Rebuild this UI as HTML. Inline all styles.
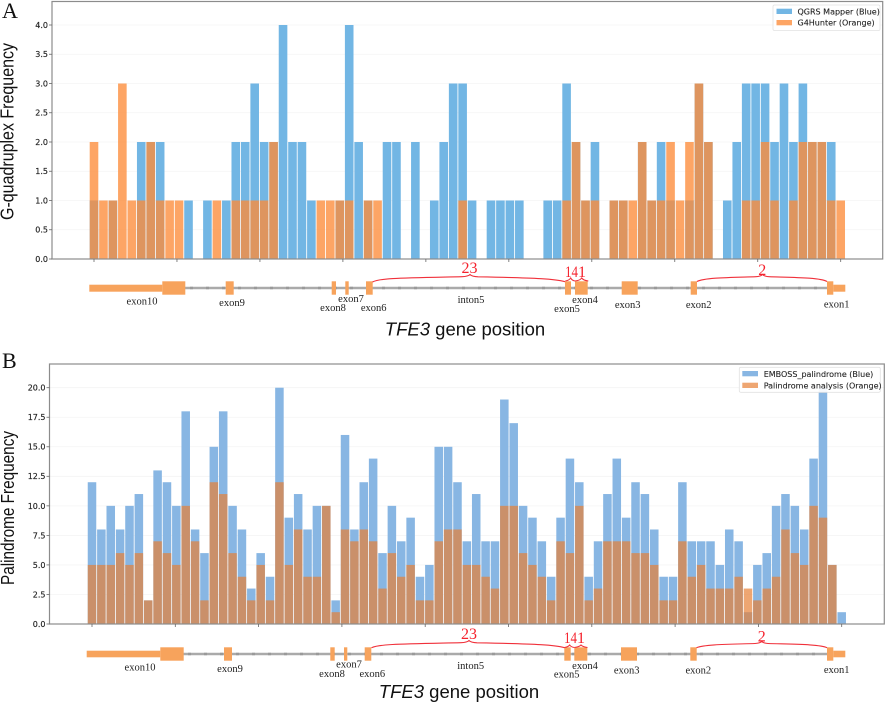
<!DOCTYPE html>
<html lang="en">
<head>
<meta charset="utf-8">
<title>TFE3 G-quadruplex and palindrome frequency</title>
<style>
html,body{margin:0;padding:0;background:#fff;}
svg{display:block;filter:blur(0.35px);}
.tick{font-family:"DejaVu Sans",sans-serif;font-size:8px;fill:#222;stroke:#222;stroke-width:0.15;}
.leg{font-family:"DejaVu Sans",sans-serif;font-size:8px;fill:#222;stroke:#222;stroke-width:0.1;}
.ex{font-family:"Liberation Serif",serif;font-size:10.5px;fill:#222;text-anchor:middle;}
.red{font-family:"Liberation Serif",serif;font-size:16px;fill:#f5222d;text-anchor:middle;}
.title{font-family:"Liberation Sans",sans-serif;font-size:18.5px;fill:#111;}
.panel{font-family:"Liberation Serif",serif;font-size:22px;fill:#111;}
.brace{fill:none;stroke:#f0303a;stroke-width:1.1;}
.intron{stroke:#aaa;stroke-width:2.4;}
.intron-mark{stroke:#999;stroke-width:2.4;stroke-dasharray:3 13;}
.exon{fill:#f7a35c;}
</style>
</head>
<body>
<svg id="fig" xmlns="http://www.w3.org/2000/svg" width="886" height="703" viewBox="0 0 886 703">
<rect width="886" height="703" fill="#fff"/>

<text class="panel" x="2" y="18">A</text>
<text class="panel" x="2" y="368">B</text>

<g id="plotA"></g>
<g id="plotB"></g>

<text class="title" transform="translate(13.5,131.5) rotate(-90)" text-anchor="middle" textLength="177" lengthAdjust="spacingAndGlyphs">G-quadruplex Frequency</text>
<text class="title" transform="translate(14,508) rotate(-90)" text-anchor="middle" textLength="154" lengthAdjust="spacingAndGlyphs">Palindrome Frequency</text>

<text class="title" x="465" y="335.5" text-anchor="middle"><tspan font-style="italic">TFE3</tspan> gene position</text>
<text class="title" x="459" y="698" text-anchor="middle"><tspan font-style="italic">TFE3</tspan> gene position</text>

<!-- legend A -->
<g>
  <rect x="773" y="5" width="107" height="25.5" fill="#fff" fill-opacity=".9" stroke="#e2e2e2" stroke-width="0.8" rx="1.5"/>
  <rect x="776.5" y="8.7" width="15.5" height="5.3" fill="#72b6e4"/>
  <text class="leg" x="797.5" y="14.5">QGRS Mapper (Blue)</text>
  <rect x="776.5" y="20" width="15.5" height="5.3" fill="#fda565"/>
  <text class="leg" x="797.5" y="25.7">G4Hunter (Orange)</text>
</g>
<!-- legend B -->
<g>
  <rect x="739.3" y="367.3" width="141" height="25" fill="#fff" fill-opacity=".92" stroke="#e2e2e2" stroke-width="0.8" rx="1.5"/>
  <rect x="742.3" y="371" width="15.7" height="5.3" fill="#88b6e3"/>
  <text class="leg" x="763.7" y="377">EMBOSS_palindrome (Blue)</text>
  <rect x="742.3" y="382.7" width="15.7" height="5.3" fill="#eea672"/>
  <text class="leg" x="763.7" y="388.5">Palindrome analysis (Orange)</text>
</g>

<!-- gene track A -->
<g>
  <line class="intron" x1="185" y1="288" x2="833" y2="288"/>
  <line class="intron-mark" x1="190" y1="288" x2="833" y2="288"/>
  <rect class="exon" x="89.3" y="284.7" width="73" height="7"/>
  <rect class="exon" x="162.3" y="281.3" width="23" height="13.4"/>
  <rect class="exon" x="225.7" y="281.3" width="8" height="13.4"/>
  <rect class="exon" x="331.7" y="281.3" width="4.3" height="13.4"/>
  <rect class="exon" x="345.3" y="281.3" width="3.4" height="13.4"/>
  <rect class="exon" x="366" y="281.3" width="6.7" height="13.4"/>
  <rect class="exon" x="565" y="281.3" width="6" height="13.4"/>
  <rect class="exon" x="575" y="281.3" width="12.7" height="13.4"/>
  <rect class="exon" x="621.7" y="281.3" width="16" height="13.4"/>
  <rect class="exon" x="690.7" y="281.3" width="6.3" height="13.4"/>
  <rect class="exon" x="827" y="281.3" width="6.3" height="13.4"/>
  <rect class="exon" x="833.3" y="284.7" width="12" height="7"/>
  <text class="ex" x="142" y="304.5">exon10</text>
  <text class="ex" x="232" y="306">exon9</text>
  <text class="ex" x="351" y="302">exon7</text>
  <text class="ex" x="333" y="311">exon8</text>
  <text class="ex" x="373.7" y="311">exon6</text>
  <text class="ex" x="471" y="303">inton5</text>
  <text class="ex" x="567" y="312">exon5</text>
  <text class="ex" x="585" y="303">exon4</text>
  <text class="ex" x="627.7" y="308">exon3</text>
  <text class="ex" x="698.7" y="308">exon2</text>
  <text class="ex" x="836.7" y="307.5">exon1</text>
  <path class="brace" d="M372.5 282 C380 278 400 278 462 276.7 Q468 276.5 470 274.5 Q472 276.5 478 276.8 C540 278 555 279 565 281.7"/>
  <path class="brace" d="M565.3 281 Q569 280.5 570.7 278 Q572 280.5 575 281"/>
  <path class="brace" d="M575 281 Q580 280.5 581.7 278 Q583.5 280.5 588.3 281"/>
  <path class="brace" d="M697 281.5 C705 277.5 730 277.5 756 276.7 Q760.5 276.5 762.5 274.5 Q764.5 276.5 769 276.7 C795 277.5 820 277.5 827 281.5"/>
  <text class="red" x="469.5" y="273">23</text>
  <text class="red" x="571.5" y="277" textLength="13" lengthAdjust="spacingAndGlyphs">14</text>
  <text class="red" x="582" y="277">1</text>
  <text class="red" x="762.3" y="275">2</text>
</g>

<!-- gene track B -->
<g>
  <line class="intron" x1="183" y1="654" x2="833" y2="654"/>
  <line class="intron-mark" x1="188" y1="654" x2="833" y2="654"/>
  <rect class="exon" x="86.7" y="650.7" width="73.6" height="6.6"/>
  <rect class="exon" x="160.3" y="647.3" width="23.4" height="13.4"/>
  <rect class="exon" x="224" y="647.3" width="8" height="13.4"/>
  <rect class="exon" x="330.3" y="647.3" width="4.4" height="13.4"/>
  <rect class="exon" x="344" y="647.3" width="3.3" height="13.4"/>
  <rect class="exon" x="364.7" y="647.3" width="6.6" height="13.4"/>
  <rect class="exon" x="564.3" y="647.3" width="6.4" height="13.4"/>
  <rect class="exon" x="574.3" y="647.3" width="13" height="13.4"/>
  <rect class="exon" x="621" y="647.3" width="16" height="13.4"/>
  <rect class="exon" x="690.3" y="647.3" width="6.4" height="13.4"/>
  <rect class="exon" x="827" y="647.3" width="6.3" height="13.4"/>
  <rect class="exon" x="833.3" y="650.7" width="12" height="6.6"/>
  <text class="ex" x="140" y="670.5">exon10</text>
  <text class="ex" x="230" y="672">exon9</text>
  <text class="ex" x="349" y="667.5">exon7</text>
  <text class="ex" x="332" y="677">exon8</text>
  <text class="ex" x="372.3" y="677">exon6</text>
  <text class="ex" x="470.7" y="669">inton5</text>
  <text class="ex" x="566.7" y="677.5">exon5</text>
  <text class="ex" x="585" y="669">exon4</text>
  <text class="ex" x="626.7" y="673.5">exon3</text>
  <text class="ex" x="698.3" y="673.5">exon2</text>
  <text class="ex" x="836.7" y="673">exon1</text>
  <path class="brace" d="M371.5 647.7 C380 644 400 644 461 642.7 Q467 642.5 469 640.5 Q471 642.5 477 642.8 C540 644 555 645 564.5 647.7"/>
  <path class="brace" d="M564.5 647.5 Q568 647 569.7 645 Q571 647 574.3 647.5"/>
  <path class="brace" d="M574.3 647.5 Q579 647 581 645 Q583 647 587.5 647.5"/>
  <path class="brace" d="M696.5 647.7 C705 644.3 730 644.3 755 643.5 Q759.7 643.3 761.7 641.5 Q763.7 643.3 768 643.5 C795 644.3 820 644.3 827 647.7"/>
  <text class="red" x="469" y="639">23</text>
  <text class="red" x="570.5" y="643" textLength="13" lengthAdjust="spacingAndGlyphs">14</text>
  <text class="red" x="581" y="643">1</text>
  <text class="red" x="761.7" y="641.5">2</text>
</g>
</svg>

<script>
// Panel A data: G-quadruplex counts per gene bin
const qgrsValues = [1,0,1,0,0,2,2,2,0,0,1,0,1,0,1,2,2,3,2,2,4,2,2,1,0,0,1,4,2,1,0,2,2,0,2,0,1,2,3,3,1,0,1,1,1,1,0,0,1,1,3,2,1,2,0,1,1,0,2,1,2,1,0,1,3,2,0,1,2,3,3,3,2,3,2,3,2,2,2,0];
const g4hunterValues = [2,1,1,3,1,1,2,1,1,1,0,0,0,1,0,1,1,1,1,2,0,0,0,0,1,1,1,1,0,1,1,0,0,0,0,0,0,0,0,1,0,0,0,0,0,0,0,0,0,0,1,2,1,1,0,1,1,1,2,1,1,2,1,2,3,2,0,0,0,1,1,2,1,0,1,2,2,2,1,1];
const yTicksA = [0,0.5,1,1.5,2,2.5,3,3.5,4];
const yTickLabelsA = ["0.0","0.5","1.0","1.5","2.0","2.5","3.0","3.5","4.0"];

// Panel B data: palindrome counts per gene bin
const embossValues = [12,8,10,8,10,11,2,13,12,10,18,8,6,15,18,10,8,3,6,4,20,9,11,8,10,10,2,16,8,12,14,6,10,7,9,4,5,15,15,12,7,11,7,7,19,17,10,9,7,4,9,14,12,4,7,11,14,9,12,11,8,4,4,12,7,7,7,5,8,7,1,5,6,10,11,10,8,14,20,5,1];
const palindromeValues = [5,5,5,6,5,6,2,7,6,5,10,7,2,12,11,6,4,2,5,2,12,5,8,4,4,10,1,8,7,8,7,3,6,4,5,2,2,7,8,8,5,5,4,3,10,10,6,5,4,2,7,6,10,2,3,7,7,7,6,6,5,2,2,7,4,5,3,3,3,4,3,2,3,4,8,6,5,10,9,5,0];
const yTicksB = [0,2.5,5,7.5,10,12.5,15,17.5,20];
const yTickLabelsB = ["0.0","2.5","5.0","7.5","10.0","12.5","15.0","17.5","20.0"];

const SVG_NS = "http://www.w3.org/2000/svg";
const X_TICK_COUNT = 10;

function makeEl(tag, parent, attrs) {
  const el = document.createElementNS(SVG_NS, tag);
  for (const key in attrs) el.setAttribute(key, attrs[key]);
  parent.appendChild(el);
  return el;
}

function drawPanel(cfg) {
  const g = document.getElementById(cfg.id);
  const count = cfg.blue.length;
  const xScale = (i) => cfg.firstX + i * (cfg.lastX - cfg.firstX) / (count - 1);
  const yScale = (v) => cfg.baseY - v * (cfg.baseY - cfg.topTickY) / cfg.topTickValue;
  const step = (cfg.lastX - cfg.firstX) / (count - 1);
  const barW = step - 0.85;

  // horizontal gridlines
  cfg.yTicks.forEach((t) => {
    const grid = makeEl("line", g, {x1: cfg.left, x2: cfg.right, y1: yScale(t), y2: yScale(t), stroke: "#f4f4f4", "stroke-width": 0.8});
    
    
  });

  // blue series
  cfg.blue.forEach((v, i) => {
    if (v <= 0) return;
    const bar = makeEl("rect", g, {x: xScale(i) - barW / 2, y: yScale(v), width: barW, height: cfg.baseY - yScale(v), fill: cfg.blueColor});
    
    
  });

  // orange series, translucent over blue
  cfg.orange.forEach((v, i) => {
    if (v <= 0) return;
    const bar = makeEl("rect", g, {x: xScale(i) - barW / 2, y: yScale(v), width: barW, height: cfg.baseY - yScale(v), fill: cfg.orangeColor, "fill-opacity": cfg.orangeOpacity});
    
    
  });

  // frame
  const frame = makeEl("rect", g, {x: cfg.left, y: cfg.top, width: cfg.right - cfg.left, height: cfg.baseY - cfg.top, fill: "none", stroke: "#8c8c8c", "stroke-width": 1.2});
  
  

  // y ticks
  cfg.yTicks.forEach((t, k) => {
    const y = yScale(t);
    const mark = makeEl("line", g, {x1: cfg.left - 3, x2: cfg.left, y1: y, y2: y, stroke: "#666", "stroke-width": 0.8});
    
    
    const label = makeEl("text", g, {x: cfg.left - 4, y: y + 2.9, class: "tick", "text-anchor": "end"});
    label.textContent = cfg.yLabels[k];
    
    
  });

  // x ticks (no labels in the source figure)
  for (let k = 0; k < X_TICK_COUNT; k++) {
    const x = cfg.firstX + k * (cfg.lastX - cfg.firstX) / (X_TICK_COUNT - 1);
    const mark = makeEl("line", g, {x1: x, x2: x, y1: cfg.baseY, y2: cfg.baseY + 3, stroke: "#666", "stroke-width": 0.8});
    
    
  }
}

drawPanel({
  id: "plotA", blue: qgrsValues, orange: g4hunterValues,
  yTicks: yTicksA, yLabels: yTickLabelsA,
  left: 52, right: 882.7, top: 1.5, baseY: 259,
  firstX: 94, lastX: 840.7, topTickY: 25, topTickValue: 4,
  blueColor: "#72b6e4", orangeColor: "rgb(252,140,58)", orangeOpacity: 0.78
});

drawPanel({
  id: "plotB", blue: embossValues, orange: palindromeValues,
  yTicks: yTicksB, yLabels: yTickLabelsB,
  left: 49.5, right: 884.3, top: 364, baseY: 624,
  firstX: 92, lastX: 841.7, topTickY: 387.7, topTickValue: 20,
  blueColor: "#88b6e3", orangeColor: "rgb(231,128,54)", orangeOpacity: 0.7
});
</script>
</body>
</html>
